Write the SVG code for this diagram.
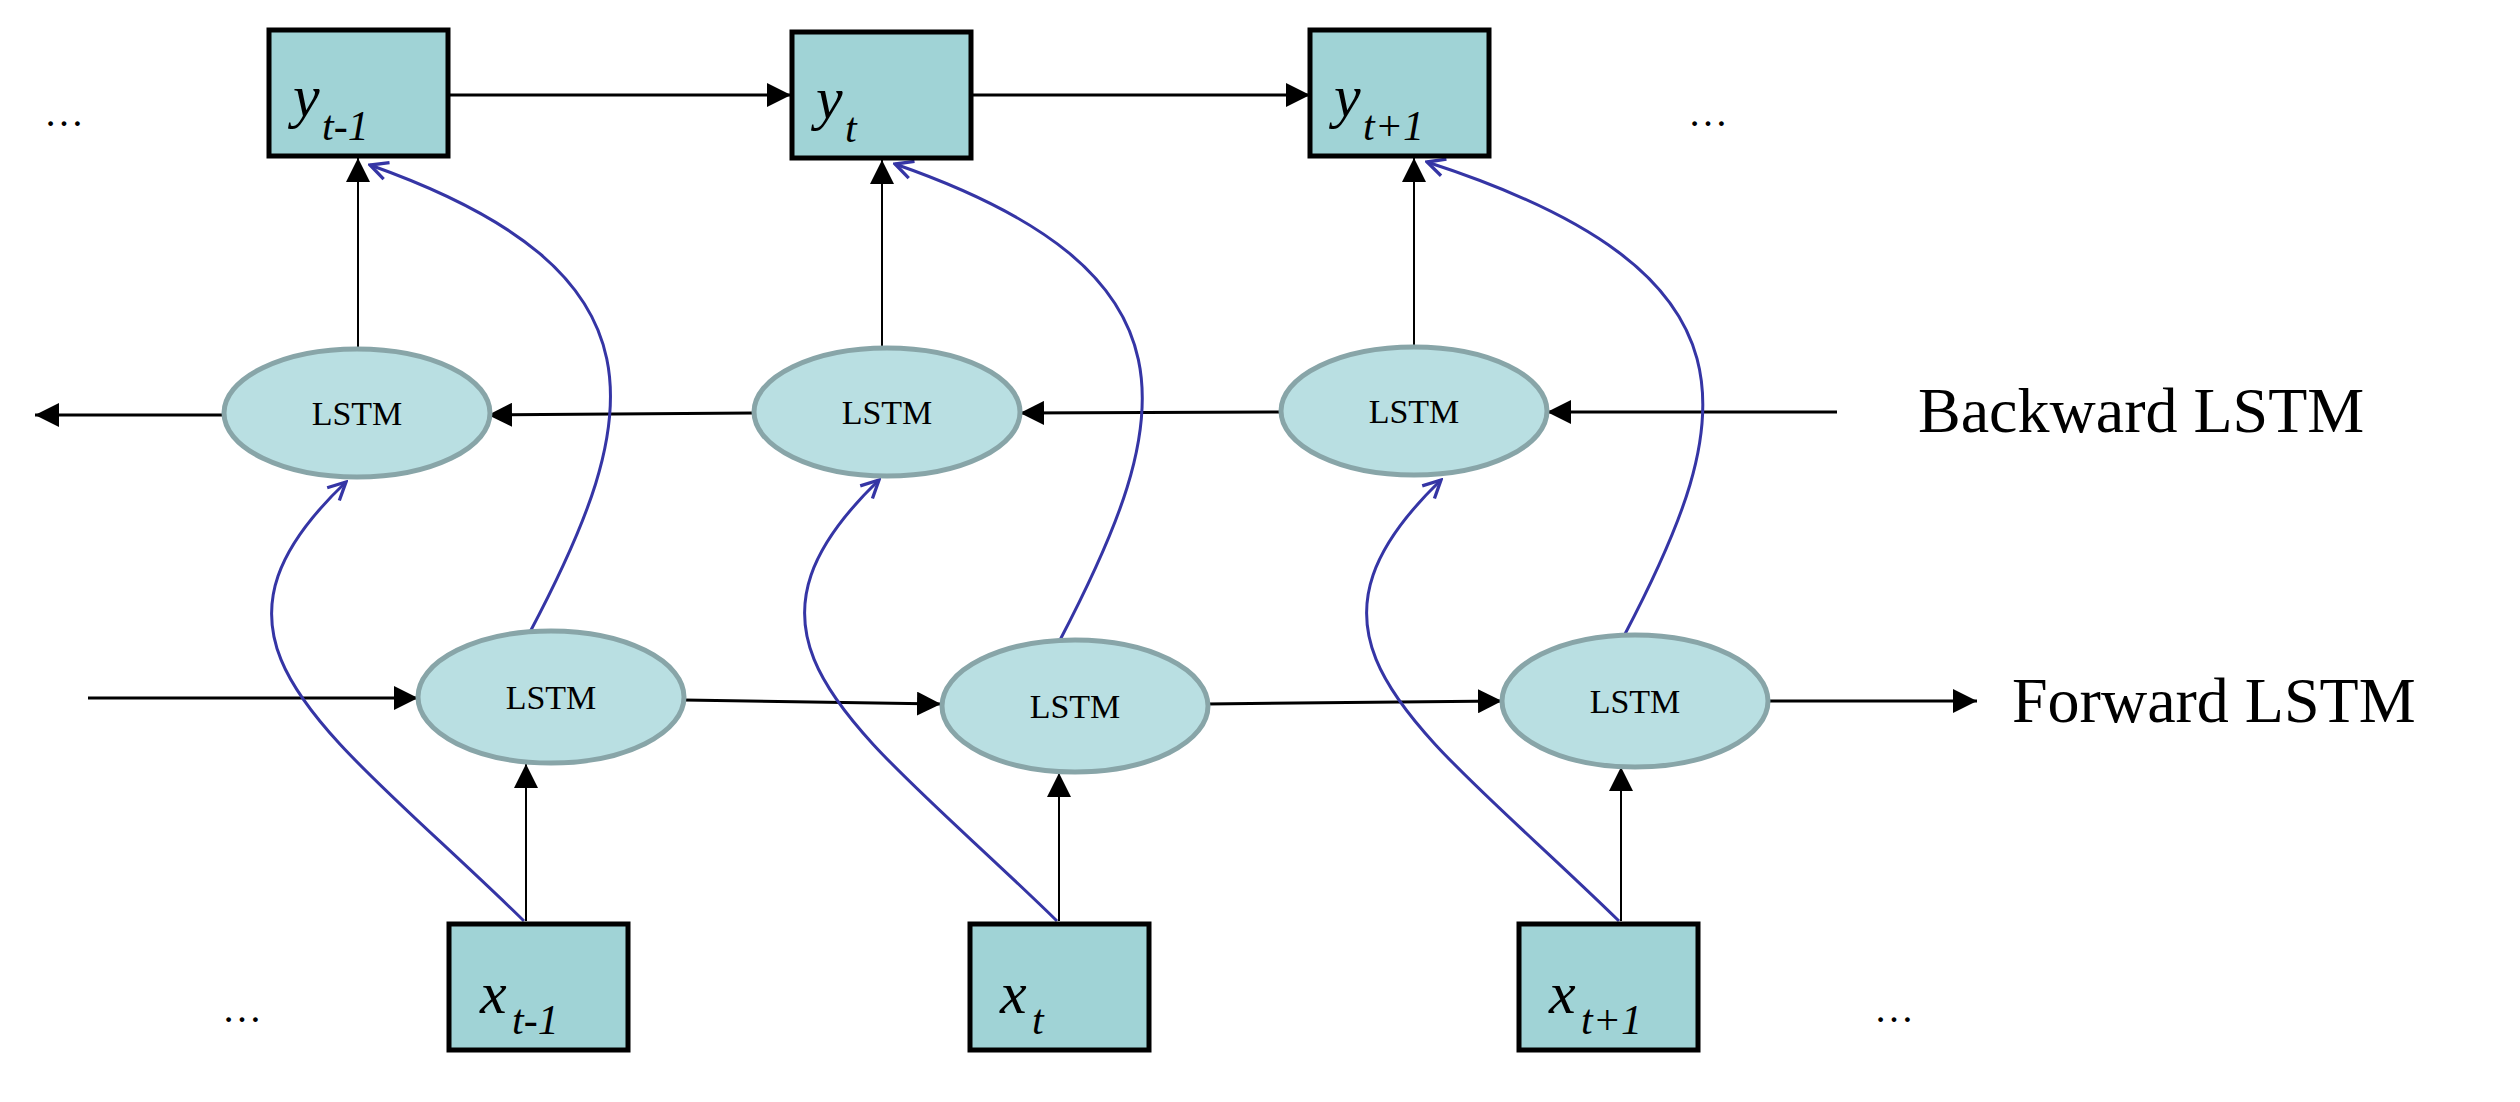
<svg xmlns="http://www.w3.org/2000/svg" width="2520" height="1102" viewBox="0 0 2520 1102">
<style>
.box{fill:#A0D3D6;stroke:#000;stroke-width:5}
.ell{fill:#B9DFE2;stroke:#88A5A8;stroke-width:5}
.lab{font-family:"Liberation Serif",serif;fill:#000}
.sym{font-family:"Liberation Serif",serif;font-style:italic;fill:#000}
.ln{stroke:#000;stroke-width:3;fill:none;marker-end:url(#ah)}
.vl{stroke:#000;stroke-width:2;fill:none;marker-end:url(#ah)}
.bl{stroke:#3535A5;stroke-width:3;fill:none;marker-end:url(#oa)}
</style>
<defs>
<marker id="ah" viewBox="0 0 10 10" refX="10" refY="5" markerWidth="9" markerHeight="9" markerUnits="userSpaceOnUse" orient="auto"><path d="M0,0 L10,5 L0,10 z" fill="#000" transform="scale(1)"/></marker>
<marker id="oa" viewBox="0 0 20 20" refX="18" refY="10" markerWidth="22" markerHeight="22" markerUnits="userSpaceOnUse" orient="auto"><path d="M2,2 L18,10 L2,18" fill="none" stroke="#3535A5" stroke-width="3"/></marker>
<marker id="big" viewBox="0 0 10 10" refX="10" refY="5" markerWidth="24" markerHeight="24" markerUnits="userSpaceOnUse" orient="auto"><path d="M0,0 L10,5 L0,10 z" fill="#000"/></marker>
</defs>
<g id="connectors">
<g stroke="#000" stroke-width="3" fill="none" marker-end="url(#big)">
<path d="M448,95 L791,95"/>
<path d="M971,95 L1310,95"/>
<path d="M1837,412 L1547,412"/>
<path d="M1281,412 L1020,413"/>
<path d="M754,413 L488,415"/>
<path d="M222,415 L35,415"/>
<path d="M88,698 L418,698"/>
<path d="M684,700 L941,704"/>
<path d="M1207,704 L1502,701"/>
<path d="M1768,701 L1977,701"/>
</g>
<g stroke="#000" stroke-width="2" fill="none" marker-end="url(#big)">
<path d="M526,921 L526,764"/>
<path d="M1059,921 L1059,773"/>
<path d="M1621,921 L1621,767"/>
<path d="M358,350 L358,158"/>
<path d="M882,348 L882,160"/>
<path d="M1414,347 L1414,158"/>
</g>
<g class="bl">
<path d="M524,921 C321,723 177,643 346,482"/>
<path d="M530,632 C643,418 675,273 370,165"/>
<path d="M1057,921 C854,723 710,643 879,480"/>
<path d="M1060,640 C1176,418 1208,273 895,164"/>
<path d="M1619,921 C1416,723 1272,643 1441,480"/>
<path d="M1625,634 C1738,418 1770,273 1427,162"/>
</g>
</g>
<g id="y1"><rect class="box" x="269" y="30" width="179" height="126"/><text class="sym" x="293" y="116" font-size="60">y</text><text class="sym" x="322" y="140" font-size="42">t-1</text></g>
<g id="y2"><rect class="box" x="792" y="32" width="179" height="126"/><text class="sym" x="816" y="118" font-size="60">y</text><text class="sym" x="845" y="142" font-size="42">t</text></g>
<g id="y3"><rect class="box" x="1310" y="30" width="179" height="126"/><text class="sym" x="1334" y="116" font-size="60">y</text><text class="sym" x="1363" y="140" font-size="42">t+1</text></g>
<g id="b1"><ellipse class="ell" cx="357" cy="413" rx="133" ry="64"/><text class="lab" x="357" y="425" font-size="34" text-anchor="middle">LSTM</text></g>
<g id="b2"><ellipse class="ell" cx="887" cy="412" rx="133" ry="64"/><text class="lab" x="887" y="424" font-size="34" text-anchor="middle">LSTM</text></g>
<g id="b3"><ellipse class="ell" cx="1414" cy="411" rx="133" ry="64"/><text class="lab" x="1414" y="423" font-size="34" text-anchor="middle">LSTM</text></g>
<g id="f1"><ellipse class="ell" cx="551" cy="697" rx="133" ry="66"/><text class="lab" x="551" y="709" font-size="34" text-anchor="middle">LSTM</text></g>
<g id="f2"><ellipse class="ell" cx="1075" cy="706" rx="133" ry="66"/><text class="lab" x="1075" y="718" font-size="34" text-anchor="middle">LSTM</text></g>
<g id="f3"><ellipse class="ell" cx="1635" cy="701" rx="133" ry="66"/><text class="lab" x="1635" y="713" font-size="34" text-anchor="middle">LSTM</text></g>
<g id="x1"><rect class="box" x="449" y="924" width="179" height="126"/><text class="sym" x="480" y="1013" font-size="60">x</text><text class="sym" x="512" y="1034" font-size="42">t-1</text></g>
<g id="x2"><rect class="box" x="970" y="924" width="179" height="126"/><text class="sym" x="1000" y="1013" font-size="60">x</text><text class="sym" x="1032" y="1034" font-size="42">t</text></g>
<g id="x3"><rect class="box" x="1519" y="924" width="179" height="126"/><text class="sym" x="1549" y="1013" font-size="60">x</text><text class="sym" x="1581" y="1034" font-size="42">t+1</text></g>
<g id="texts" class="lab" font-size="40">
<text x="44" y="126">…</text>
<text x="1688" y="126">…</text>
<text x="222" y="1022">…</text>
<text x="1874" y="1022">…</text>
<text x="1918" y="432" font-size="64">Backward LSTM</text>
<text x="2012" y="722" font-size="64">Forward LSTM</text>
</g>
</svg>
